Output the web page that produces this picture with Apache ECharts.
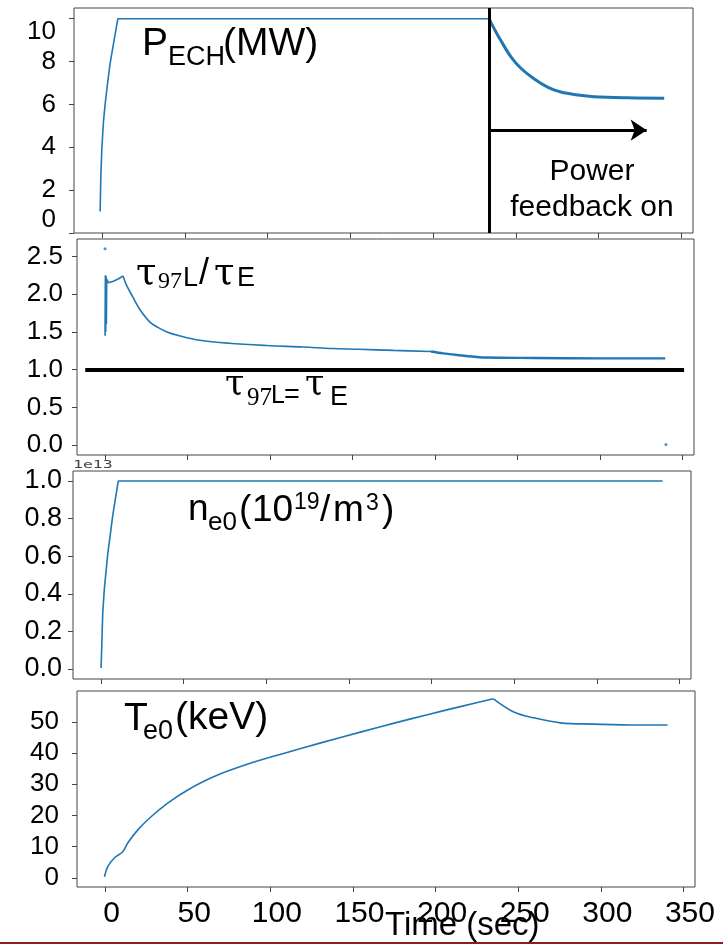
<!DOCTYPE html>
<html>
<head>
<meta charset="utf-8">
<script src="https://cdn.jsdelivr.net/npm/echarts@6/dist/echarts.min.js"></script>
<style>
html, body { margin: 0; padding: 0; background: #fff; }
#main { width: 723px; height: 944px; }
</style>
</head>
<body>
<div id="main"></div>
<script>
// tick values
var xTicks = [0, 50, 100, 150, 200, 250, 300, 350];
var pechTicks = [0, 2, 4, 6, 8, 10];
var tauTicks = [0, 0.5, 1.0, 1.5, 2.0, 2.5];
var neTicks = [0, 0.2, 0.4, 0.6, 0.8, 1.0];
var teTicks = [0, 10, 20, 30, 40, 50];

// P_ECH (MW): ramp up, flat at 10 MW, then power feedback on
var feedbackOn = 233.7;
var pechRamp = [[-1.2, 1.0], [-0.8, 2.6], [-0.2, 3.9], [0.8, 5.2], [1.8, 6.0], [3.3, 7.0],
  [4.8, 7.9], [7, 8.9], [9.5, 10], [233.7, 10]];
var pechFeedback = [[233.7, 10], [236.7, 9.56], [240.9, 8.98], [247, 8.22], [253, 7.69],
  [260.9, 7.2], [269.4, 6.8], [277.2, 6.58], [287.5, 6.44], [297.2, 6.36], [317.8, 6.31], [339.6, 6.29]];

// tau_97L / tau_E
var tauSpike = [[0, 1.45], [0.2, 2.25], [0.4, 1.5], [0.6, 2.24], [0.8, 1.6], [1.0, 2.2], [2, 2.15],
  [5, 2.17], [8, 2.2], [10.9, 2.24]];
var tauDecay = [[10.9, 2.24], [13, 2.12], [16.9, 1.96], [21, 1.8], [27.2, 1.63],
  [32, 1.56], [37.5, 1.5], [45, 1.45], [57.4, 1.39], [75, 1.35], [97.9, 1.32], [120, 1.3],
  [137.8, 1.28], [154, 1.27], [175, 1.255], [197.6, 1.24]];
var tauLate = [[197.6, 1.24], [205, 1.215], [214.5, 1.19], [230.8, 1.16], [260, 1.155],
  [300, 1.15], [339.6, 1.15]];
var tauStray = [[0, 2.6], [340, 0.01]];
var unity = [[-12, 1], [351, 1]];

// n_e0, axis scaled by 1e13
var neCore = [[0, 0.005], [0.6, 0.18], [1.0, 0.30], [2.0, 0.43], [4.0, 0.61], [7.1, 0.82],
  [10.4, 1.0], [339.8, 1.0]];

// T_e0 (keV)
var teRise = [[-0.4, 0.4], [1.6, 3.6], [5.6, 6.4], [10.7, 8.4], [13.7, 11.2], [19.8, 15.4],
  [27.8, 19.6], [37.9, 24], [50, 28.2], [66, 32.5], [86, 36.4], [108, 39.9],
  [130, 43.2], [155, 46.8], [175, 49.6], [195, 52.3], [215, 54.9], [235, 57.4]];
var teFall = [[235, 57.4], [247.3, 53.2], [259.4, 51.3], [275.7, 49.7], [295.6, 49.3],
  [322.2, 49.0], [340.4, 49.0]];

var blue = '#1f77b4';
var sans = 'Liberation Sans';
var serif = 'DejaVu Serif';

var chart = echarts.init(document.getElementById('main'), null, { renderer: 'canvas' });

var grids = [
  { left: 74, top: 8, width: 619, height: 225 },
  { left: 77, top: 239, width: 617, height: 216 },
  { left: 73, top: 471, width: 618, height: 208 },
  { left: 77, top: 691, width: 618, height: 196 }
];
grids.forEach(function (g) {
  g.show = true;
  g.borderColor = '#444';
  g.borderWidth = 1;
});

function xAxisFor(i) {
  return {
    type: 'value', gridIndex: i, min: -17, max: 357,
    axisLine: { show: false, onZero: false },
    splitLine: { show: false },
    axisTick: { customValues: xTicks, length: 5, lineStyle: { color: '#444' } },
    axisLabel: {
      show: i === 3, customValues: xTicks, margin: 12, padding: [0, 0, 0, 13],
      color: '#000', fontSize: 30, fontFamily: sans
    }
  };
}

function yAxisFor(i, lo, hi, ticks, digits, margin, size) {
  return {
    type: 'value', gridIndex: i, min: lo, max: hi,
    axisLine: { show: false, onZero: false },
    splitLine: { show: false },
    axisTick: { customValues: ticks, length: 5, lineStyle: { color: '#444' } },
    axisLabel: {
      customValues: ticks, margin: margin, color: '#000',
      fontSize: size, fontFamily: sans,
      formatter: function (v) { return v.toFixed(digits); }
    }
  };
}

function curve(i, data, width, smooth) {
  return {
    type: 'line', xAxisIndex: i, yAxisIndex: i, data: data, showSymbol: false,
    smooth: smooth ? 0.35 : false,
    lineStyle: { color: blue, width: width }
  };
}

function word(x, base, text, size, font) {
  return {
    type: 'text', x: x, y: base - size * 0.35, silent: true,
    style: {
      text: text, fill: '#000', fontSize: size, fontFamily: font || sans,
      textAlign: 'left', textVerticalAlign: 'middle'
    }
  };
}

function mid(x, base, text, size) {
  var w = word(x, base, text, size);
  w.style.textAlign = 'center';
  return w;
}

var noLabel = { show: false };

// the power panel's labels sit inside the box at both ends, as in the figure
var pechAxis = yAxisFor(0, 0, 10.5, pechTicks, 0, 18, 26);
pechAxis.axisLabel.verticalAlignMaxLabel = 'top';
pechAxis.axisLabel.verticalAlignMinLabel = 'bottom';

var ramp = curve(0, pechRamp, 1.6, false);
ramp.markLine = {
  silent: true, symbol: ['none', 'none'], label: noLabel,
  lineStyle: { color: '#000', width: 3, type: 'solid' },
  data: [{ xAxis: feedbackOn }]
};
var feedback = curve(0, pechFeedback, 3, true);
feedback.markLine = {
  silent: true, symbol: ['none', 'arrow'], symbolSize: 16, label: noLabel,
  lineStyle: { color: '#000', width: 3, type: 'solid' },
  data: [[{ coord: [feedbackOn, 4.8] }, { coord: [329, 4.8] }]]
};
var spike = curve(1, tauSpike, 1.6, false);
spike.markLine = {
  silent: true, symbol: ['none', 'none'], label: noLabel,
  lineStyle: { color: '#000', width: 4, type: 'solid' },
  data: [[{ coord: unity[0] }, { coord: unity[1] }]]
};

var option = {
  animation: false,
  backgroundColor: '#fff',
  grid: grids,
  xAxis: [xAxisFor(0), xAxisFor(1), xAxisFor(2), xAxisFor(3)],
  yAxis: [
    pechAxis,
    yAxisFor(1, -0.13, 2.73, tauTicks, 1, 14, 26),
    yAxisFor(2, -0.053, 1.053, neTicks, 1, 11, 27),
    yAxisFor(3, -2.9, 59.9, teTicks, 0, 18, 26)
  ],
  series: [
    ramp,
    feedback,
    spike,
    curve(1, tauDecay, 1.6, true),
    curve(1, tauLate, 2.4, true),
    {
      type: 'scatter', xAxisIndex: 1, yAxisIndex: 1, data: tauStray,
      symbolSize: 3, itemStyle: { color: blue }
    },
    curve(2, neCore, 1.6, false),
    curve(3, teRise, 1.6, true),
    curve(3, teFall, 1.6, true)
  ],
  graphic: [
    // P_ECH(MW)
    word(142, 58, 'P', 39), word(168, 67, 'ECH', 27), word(223, 58, '(MW)', 39),
    // Power feedback on
    mid(592, 182, 'Power', 30), mid(592, 218, 'feedback on', 30),
    // tau_97L / tau_E
    word(136, 287, '\u03c4', 37, serif), word(158, 290, '97', 24, 'Liberation Serif'), word(183, 288, 'L', 27),
    word(199, 287, '/', 36), word(214, 287, '\u03c4', 37, serif), word(237, 288, 'E', 27),
    // tau_97L = tau_E
    word(225, 398, '\u03c4', 35, serif), word(247, 407, '97', 25, 'Liberation Serif'), word(271, 405, 'L', 25),
    word(284, 405, '=', 27), word(305, 398, '\u03c4', 35, serif), word(330, 407, 'E', 27),
    // n_e0(10^19/m^3)
    word(188, 523, 'n', 37), word(208, 532, 'e0', 26), word(239, 524, '(', 37),
    word(252, 524, '10', 37), word(294, 511, '19', 23), word(320, 524, '/', 37),
    word(333, 524, 'm', 37), word(366, 512, '3', 23), word(382, 524, ')', 37),
    // T_e0(keV)
    word(124, 733, 'T', 39), word(143, 741, 'e0', 27), word(175, 732, '(keV)', 39),
    // axis title
    word(385, 937, 'Time (sec)', 33),
    // offset text of the density axis
    {
      type: 'text', x: 73, y: 465, scaleX: 1.5, silent: true,
      style: { text: '1e13', fill: '#444', fontSize: 11, fontFamily: 'DejaVu Sans Mono', textVerticalAlign: 'middle' }
    },
    {
      type: 'rect', silent: true, shape: { x: 0, y: 942, width: 723, height: 2 },
      style: { fill: '#8b1e1e' }
    }
  ]
};

chart.setOption(option);
</script>
</body>
</html>
